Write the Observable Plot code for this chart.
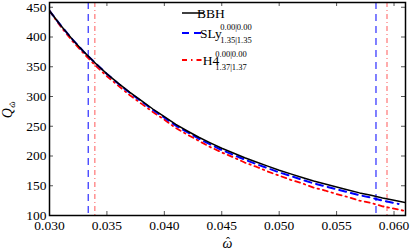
<!DOCTYPE html>
<html><head><meta charset="utf-8">
<script src="https://cdn.jsdelivr.net/npm/d3@7"></script>
<script src="https://cdn.jsdelivr.net/npm/@observablehq/plot@0.6"></script>
<style>
body{margin:0;background:#fff}
svg, svg text{font-family:"Liberation Serif", serif !important;}
</style>
</head><body><div id="chart"></div>
<script>
const omega = [0.030,0.031,0.032,0.033,0.034,0.035,0.036,0.037,0.038,0.039,0.040,0.041,0.042,0.043,0.044,0.045,0.046,0.047,0.048,0.049,0.050,0.051,0.052,0.053,0.054,0.055,0.056,0.057,0.058,0.059,0.060,0.061];
const qBBH = [444,419,396,375,356,338,322,307,293,279,266,253,242,231.5,222,213,205,197,190,183,176,170,164,158,153,148,143,138,134,129.5,125.5,121.5];
const omegaSLy = [0.030,0.031,0.032,0.033,0.034,0.035,0.036,0.037,0.038,0.039,0.040,0.041,0.042,0.043,0.044,0.045,0.046,0.047,0.048,0.049,0.050,0.051,0.052,0.053,0.054,0.055,0.056,0.057,0.058,0.059,0.060,0.0604];
const qSLy = [444,419,396,375,356,338,321.5,306,292,277.5,264.5,251,240,229,219.5,210,202,194,186.5,179.5,172.5,166.5,160,154,149,144,139,134,130,125,121,119.5];
const qH4 = [444,417,393,372,352,334,318,302,288,274,261,247,236,225.5,215,206,198,189,182,174,167,160,154,147,142,136,131,125,121,115.5,111.5,107.5];
const vSLy = [0.03337, 0.05843];
const vH4 = [0.03395, 0.05939];
const xTicks = [0.030,0.035,0.040,0.045,0.050,0.055,0.060];
const yTicks = [100,150,200,250,300,350,400,450];
const legendNames = ["BBH", "SLy", "H4"];
const legendSup = [null, "0.00|0.00", "0.00|0.00"];
const legendSub = [null, "1.35|1.35", "1.37|1.37"];

const bbh = omega.map((w,i)=>({w, q:qBBH[i]}));
const sly = omegaSLy.map((w,i)=>({w, q:qSLy[i]}));
const h4 = omega.map((w,i)=>({w, q:qH4[i]}));

const W = 411, H = 252, mL = 49, mR = 6, mT = 2, mB = 37;
const innerH = H - mT - mB, innerW = W - mL - mR;

const plot = Plot.plot({
  width: W, height: H,
  marginLeft: mL, marginRight: mR, marginTop: mT, marginBottom: mB,
  style: "font-family: 'Liberation Serif', serif; font-size: 13.5px; color: black; background: white;",
  x: {domain: [0.030, 0.061], label: null},
  y: {domain: [100, 458], label: null},
  marks: [
    Plot.ruleX(vSLy, {x: d=>d, stroke: "#0000ff", strokeWidth: 1, strokeDasharray: "7,5"}),
    Plot.ruleX(vH4, {x: d=>d, stroke: "#ff3030", strokeOpacity: 0.8, strokeWidth: 1, strokeDasharray: "5,3,1,3"}),
    Plot.line(h4, {x: "w", y: "q", stroke: "#ff0000", strokeWidth: 1.8, strokeDasharray: "5,4,1.5,4", clip: true}),
    Plot.line(sly, {x: "w", y: "q", stroke: "#0000ff", strokeWidth: 2, strokeDasharray: "7,5", clip: true}),
    Plot.line(bbh, {x: "w", y: "q", stroke: "black", strokeWidth: 1.5, clip: true}),
    Plot.tickX(xTicks, {x: d=>d, stroke: "#555", insetTop: innerH - 4}),
    Plot.tickX(xTicks, {x: d=>d, stroke: "#555", insetBottom: innerH - 4}),
    Plot.tickY(yTicks, {y: d=>d, stroke: "#555", insetRight: innerW - 4}),
    Plot.tickY(yTicks, {y: d=>d, stroke: "#555", insetLeft: innerW - 4}),
    Plot.axisX({ticks: xTicks, tickSize: 0, tickPadding: 5, tickFormat: d3.format(".3f")}),
    Plot.axisY({ticks: yTicks, tickSize: 0, tickPadding: 3, tickFormat: d3.format("d")}),
    Plot.text(["\u03C9"], {frameAnchor: "bottom", dy: 32, fontSize: 14, fontStyle: "italic"}),
    Plot.text(["\u02C6"], {frameAnchor: "bottom", dy: 30, dx: 0.5, fontSize: 12}),
    Plot.frame({stroke: "black", strokeWidth: 1.5})
  ]
});
document.getElementById("chart").appendChild(plot);

// y-axis label and legend
const svg = d3.select(plot);
const yl = svg.append("g").attr("transform", "translate(12,108) rotate(-90)");
yl.append("text").attr("x", 0).attr("y", 0).attr("text-anchor", "end")
  .attr("font-size", 14).attr("font-style", "italic").attr("fill", "black").text("Q");
yl.append("text").attr("x", 3.5).attr("y", 3).attr("text-anchor", "middle")
  .attr("font-size", 9).attr("font-style", "italic").attr("fill", "black").text("\u03C9");
yl.append("text").attr("x", 3.8).attr("y", 4).attr("text-anchor", "middle")
  .attr("font-size", 8).attr("fill", "black").text("\u02C6");

const legendStyle = [
  {stroke: "black", dash: null, w: 1.5, y: 13, supX: null},
  {stroke: "#0000ff", dash: "7,5", w: 2, y: 33, supX: 236},
  {stroke: "#ff0000", dash: "5,4,1.5,4", w: 1.8, y: 60, supX: 231}
];
const g = svg.append("g");
legendNames.forEach((name, i) => {
  const e = legendStyle[i];
  g.append("line").attr("x1", 182).attr("x2", 204).attr("y1", e.y).attr("y2", e.y)
    .attr("stroke", e.stroke).attr("stroke-width", e.w).attr("stroke-dasharray", e.dash);
  g.append("text").attr("x", 211).attr("y", e.y + 4.5).attr("font-size", 13.5).attr("fill", "black").text(name);
  if (legendSup[i]) {
    g.append("text").attr("x", e.supX).attr("y", e.y - 3.5).attr("font-size", 8.5).attr("fill", "black").text(legendSup[i]);
    g.append("text").attr("x", e.supX).attr("y", e.y + 9.5).attr("font-size", 8.5).attr("fill", "black").text(legendSub[i]);
  }
});
</script>
</body></html>
